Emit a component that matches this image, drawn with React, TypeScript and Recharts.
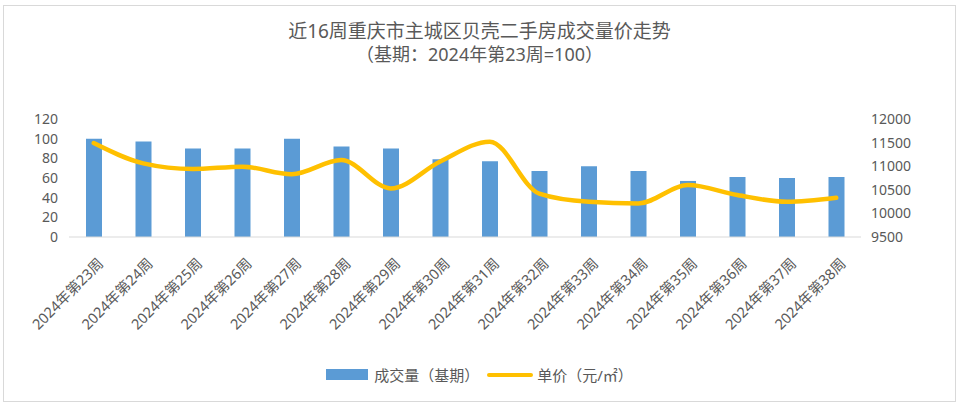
import { ComposedChart, Bar, Line, XAxis, YAxis } from "recharts";

const weeks = [
  "2024年第23周", "2024年第24周", "2024年第25周", "2024年第26周",
  "2024年第27周", "2024年第28周", "2024年第29周", "2024年第30周",
  "2024年第31周", "2024年第32周", "2024年第33周", "2024年第34周",
  "2024年第35周", "2024年第36周", "2024年第37周", "2024年第38周",
];
const volumeIndex = [100, 97, 90, 90, 100, 92, 90, 79, 77, 67, 72, 67, 57, 61, 60, 61];
const unitPrice = [11490, 11060, 10940, 10990, 10830, 11130, 10530, 11100, 11520, 10420, 10245, 10210, 10600, 10390, 10245, 10330];
const leftTicks = [0, 20, 40, 60, 80, 100, 120];
const rightTicks = [9500, 10000, 10500, 11000, 11500, 12000];

const data = weeks.map((week, i) => ({ week, volume: volumeIndex[i], price: unitPrice[i] }));

const GREY = "#595959";
const FONT = "'Noto Sans', 'Noto Sans CJK SC', sans-serif";

function WeekTick({ x, y, payload }: any) {
  return (
    <g transform={`translate(${x + 7},${y + 24})`}>
      <text transform="rotate(-45)" textAnchor="end" dy="0.35em" fill={GREY} fontSize={14.5} fontFamily={FONT}>
        {payload.value}
      </text>
    </g>
  );
}

export default function App() {
  return (
    <div
      style={{
        position: "absolute",
        left: 3,
        top: 5,
        width: 953,
        height: 397,
        border: "1px solid #d9d9d9",
        boxSizing: "border-box",
        background: "#fff",
        fontFamily: FONT,
        color: GREY,
      }}
    >
      <div style={{ position: "absolute", top: 14, left: 0, width: "100%", textAlign: "center", fontSize: 19, lineHeight: "23px" }}>
        近16周重庆市主城区贝壳二手房成交量价走势
      </div>
      <div style={{ position: "absolute", top: 37, left: 0, width: "100%", textAlign: "center", fontSize: 18, lineHeight: "23px" }}>
        （基期：2024年第23周=100）
      </div>
      <div style={{ position: "absolute", left: 0, top: 0 }}>
        <ComposedChart width={951} height={395} data={data} margin={{ top: 113, right: 34, bottom: 64, left: 25 }} barCategoryGap={0}>
          <XAxis
            dataKey="week"
            interval={0}
            height={100}
            tickSize={0}
            tickMargin={0}
            stroke="#d9d9d9"
            tick={<WeekTick />}
          />
          <YAxis
            yAxisId="left"
            width={40}
            domain={[0, 120]}
            ticks={leftTicks}
            interval={0}
            axisLine={false}
            tickLine={false}
            tickSize={0}
            tickMargin={11}
            tick={{ fill: GREY, fontSize: 14, fontFamily: FONT }}
          />
          <YAxis
            yAxisId="right"
            orientation="right"
            width={60}
            domain={[9500, 12000]}
            ticks={rightTicks}
            interval={0}
            axisLine={false}
            tickLine={false}
            tickSize={0}
            tickMargin={10}
            tick={{ fill: GREY, fontSize: 14, fontFamily: FONT, textAnchor: "start" }}
          />
          <Bar yAxisId="left" dataKey="volume" fill="#5B9BD5" barSize={16} isAnimationActive={false} />
          <Line
            yAxisId="right"
            dataKey="price"
            type="monotone"
            stroke="#FFC000"
            strokeWidth={4.5}
            strokeLinecap="round"
            dot={false}
            activeDot={false}
            isAnimationActive={false}
          />
        </ComposedChart>
      </div>
      <div style={{ position: "absolute", top: 358, left: 0, width: "100%", display: "flex", justifyContent: "center", alignItems: "center", fontSize: 15 }}>
        <span style={{ display: "inline-block", width: 42, height: 11, background: "#5B9BD5", marginRight: 6 }} />
        <span>成交量（基期）</span>
        <span style={{ display: "inline-block", width: 46, height: 4, borderRadius: 2, background: "#FFC000", margin: "0 4px 0 8px" }} />
        <span>单价（元/㎡）</span>
      </div>
    </div>
  );
}
